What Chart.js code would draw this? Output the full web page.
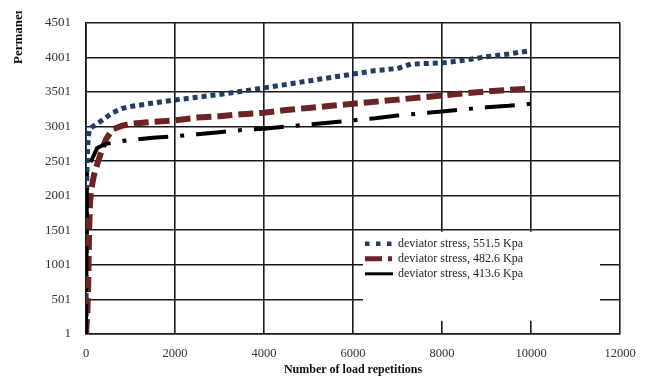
<!DOCTYPE html>
<html>
<head>
<meta charset="utf-8">
<script src="https://cdn.jsdelivr.net/npm/chart.js@4/dist/chart.umd.min.js"></script>
<style>
  html, body { margin: 0; padding: 0; background: #ffffff; }
  #wrap { width: 649px; height: 378px; }
</style>
</head>
<body>
<div id="wrap"><canvas id="c" width="649" height="378"></canvas></div>
<script>
// Load repetitions (x) and permanent deformation (y) for each deviator stress
const seriesNames = [
  'deviator stress, 551.5 Kpa',
  'deviator stress, 482.6 Kpa',
  'deviator stress, 413.6 Kpa'
];

const reps551 = [0, 2, 4, 6, 10, 15, 20, 30, 50, 80, 150, 250, 400, 600, 800, 1000, 1500, 2000, 2500, 3000, 3500, 4000, 4500, 5000, 5500, 6000, 6500, 7000, 7300, 8000, 8500, 9000, 9500, 10000];
const def551  = [1, 300, 700, 1100, 1600, 2000, 2300, 2600, 2850, 2960, 3000, 3040, 3110, 3200, 3260, 3290, 3340, 3385, 3425, 3465, 3510, 3560, 3610, 3660, 3710, 3760, 3810, 3840, 3905, 3920, 3960, 4010, 4050, 4100];

const reps482 = [0, 30, 50, 60, 70, 90, 120, 180, 250, 350, 450, 600, 800, 1000, 1500, 2000, 2500, 3000, 3500, 4000, 4500, 5000, 5500, 6000, 6500, 7000, 7500, 8000, 8500, 9000, 9500, 10000];
const def482  = [1, 300, 700, 1100, 1500, 1900, 2100, 2300, 2450, 2650, 2820, 2960, 3010, 3040, 3070, 3090, 3130, 3150, 3180, 3200, 3240, 3270, 3300, 3330, 3360, 3390, 3420, 3450, 3480, 3510, 3530, 3550];

const reps413 = [0, 5, 10, 15, 20, 40, 100, 150, 250, 450, 900, 1500, 2000, 2500, 3000, 3500, 4000, 4500, 5000, 5500, 6000, 6500, 7000, 7500, 8000, 8500, 9000, 9500, 10000];
const def413  = [1, 500, 1000, 1500, 2300, 2470, 2480, 2550, 2690, 2750, 2800, 2840, 2860, 2890, 2920, 2950, 2970, 3000, 3030, 3060, 3090, 3120, 3160, 3190, 3220, 3250, 3280, 3300, 3330];

const xTicks = [0, 2000, 4000, 6000, 8000, 10000, 12000];
const yTicks = [1, 501, 1001, 1501, 2001, 2501, 3001, 3501, 4001, 4501];

const toPoints = (xs, ys) => xs.map((x, i) => ({ x: x, y: ys[i] }));

const serif = "'Liberation Serif', 'Times New Roman', serif";

// Rotated y-axis caption, clipped at the top of the figure
const yCaption = {
  id: 'yCaption',
  afterDraw(chart) {
    const ctx = chart.ctx;
    ctx.save();
    ctx.beginPath();
    ctx.rect(0, 11, 45, 120);
    ctx.clip();
    ctx.translate(19, 64);
    ctx.rotate(-Math.PI / 2);
    ctx.font = "bold 13px " + serif;
    ctx.fillStyle = '#111';
    ctx.textAlign = 'left';
    ctx.textBaseline = 'middle';
    ctx.fillText('Permanent deformation', 0, 0);
    ctx.restore();
  }
};

// Legend box drawn inside the plot area, lower right
const innerLegend = {
  id: 'innerLegend',
  afterDatasetsDraw(chart) {
    const ctx = chart.ctx;
    const a = chart.chartArea;
    const bx = a.left + 277, by = a.top + 209, bw = 237, bh = 89;
    ctx.save();
    ctx.fillStyle = '#ffffff';
    ctx.fillRect(bx, by, bw, bh);
    ctx.font = "12px " + serif;
    ctx.textBaseline = 'middle';
    ctx.textAlign = 'left';
    chart.data.datasets.forEach((ds, i) => {
      const yy = by + 12 + i * 15;
      ctx.beginPath();
      ctx.strokeStyle = ds.borderColor;
      ctx.lineWidth = ds.legendWidth;
      ctx.setLineDash(ds.legendDash);
      ctx.lineCap = 'butt';
      ctx.moveTo(bx + 2, yy);
      ctx.lineTo(bx + 30, yy);
      ctx.stroke();
      ctx.setLineDash([]);
      ctx.fillStyle = '#222';
      ctx.fillText(ds.label, bx + 35, yy);
    });
    ctx.restore();
  }
};

const plainNumber = v => String(v);

new Chart(document.getElementById('c'), {
  type: 'scatter',
  data: {
    datasets: [
      {
        label: seriesNames[0],
        data: toPoints(reps551, def551),
        borderColor: '#1f3d66',
        borderWidth: 5,
        borderDash: [5, 4],
        legendDash: [4.5, 6.5],
        legendWidth: 4.5,
        order: 2
      },
      {
        label: seriesNames[1],
        data: toPoints(reps482, def482),
        borderColor: '#6b2323',
        borderWidth: 6,
        borderDash: [15, 6],
        legendDash: [17, 6, 4, 6],
        legendWidth: 5,
        order: 1
      },
      {
        label: seriesNames[2],
        data: toPoints(reps413, def413),
        borderColor: '#000000',
        borderWidth: 4,
        borderDash: [30, 12, 4, 12],
        legendDash: [],
        legendWidth: 3,
        order: 0
      }
    ].map(ds => Object.assign(ds, {
      showLine: true,
      tension: 0,
      pointRadius: 0,
      pointHoverRadius: 0,
      borderCapStyle: 'butt',
      borderJoinStyle: 'miter',
      fill: false
    }))
  },
  options: {
    responsive: false,
    animation: false,
    devicePixelRatio: 1,
    layout: { padding: { left: 0, top: 22, right: 29, bottom: 0 } },
    plugins: {
      legend: { display: false },
      tooltip: { enabled: false }
    },
    scales: {
      x: {
        type: 'linear',
        min: 0,
        max: 12000,
        afterBuildTicks(scale) { scale.ticks = xTicks.map(v => ({ value: v })); },
        afterFit(scale) { scale.height = 44; },
        grid: { color: '#1a1a1a', lineWidth: 1.6, drawTicks: false },
        border: { color: '#1a1a1a', width: 1.6 },
        ticks: {
          padding: 12,
          maxRotation: 0,
          color: '#333',
          callback: plainNumber,
          font: { family: serif, size: 12.5 }
        },
        title: {
          display: true,
          text: 'Number of load repetitions',
          color: '#111',
          font: { family: serif, size: 12, weight: 'bold' },
          padding: { top: 0, bottom: 1 }
        }
      },
      y: {
        type: 'linear',
        min: 1,
        max: 4501,
        afterBuildTicks(scale) { scale.ticks = yTicks.map(v => ({ value: v })); },
        afterFit(scale) { scale.width = 86; },
        grid: { color: '#1a1a1a', lineWidth: 1.6, drawTicks: false },
        border: { color: '#1a1a1a', width: 1.6 },
        ticks: {
          padding: 15,
          color: '#333',
          callback: plainNumber,
          font: { family: serif, size: 13 }
        }
      }
    }
  },
  plugins: [innerLegend, yCaption]
});
</script>
</body>
</html>
